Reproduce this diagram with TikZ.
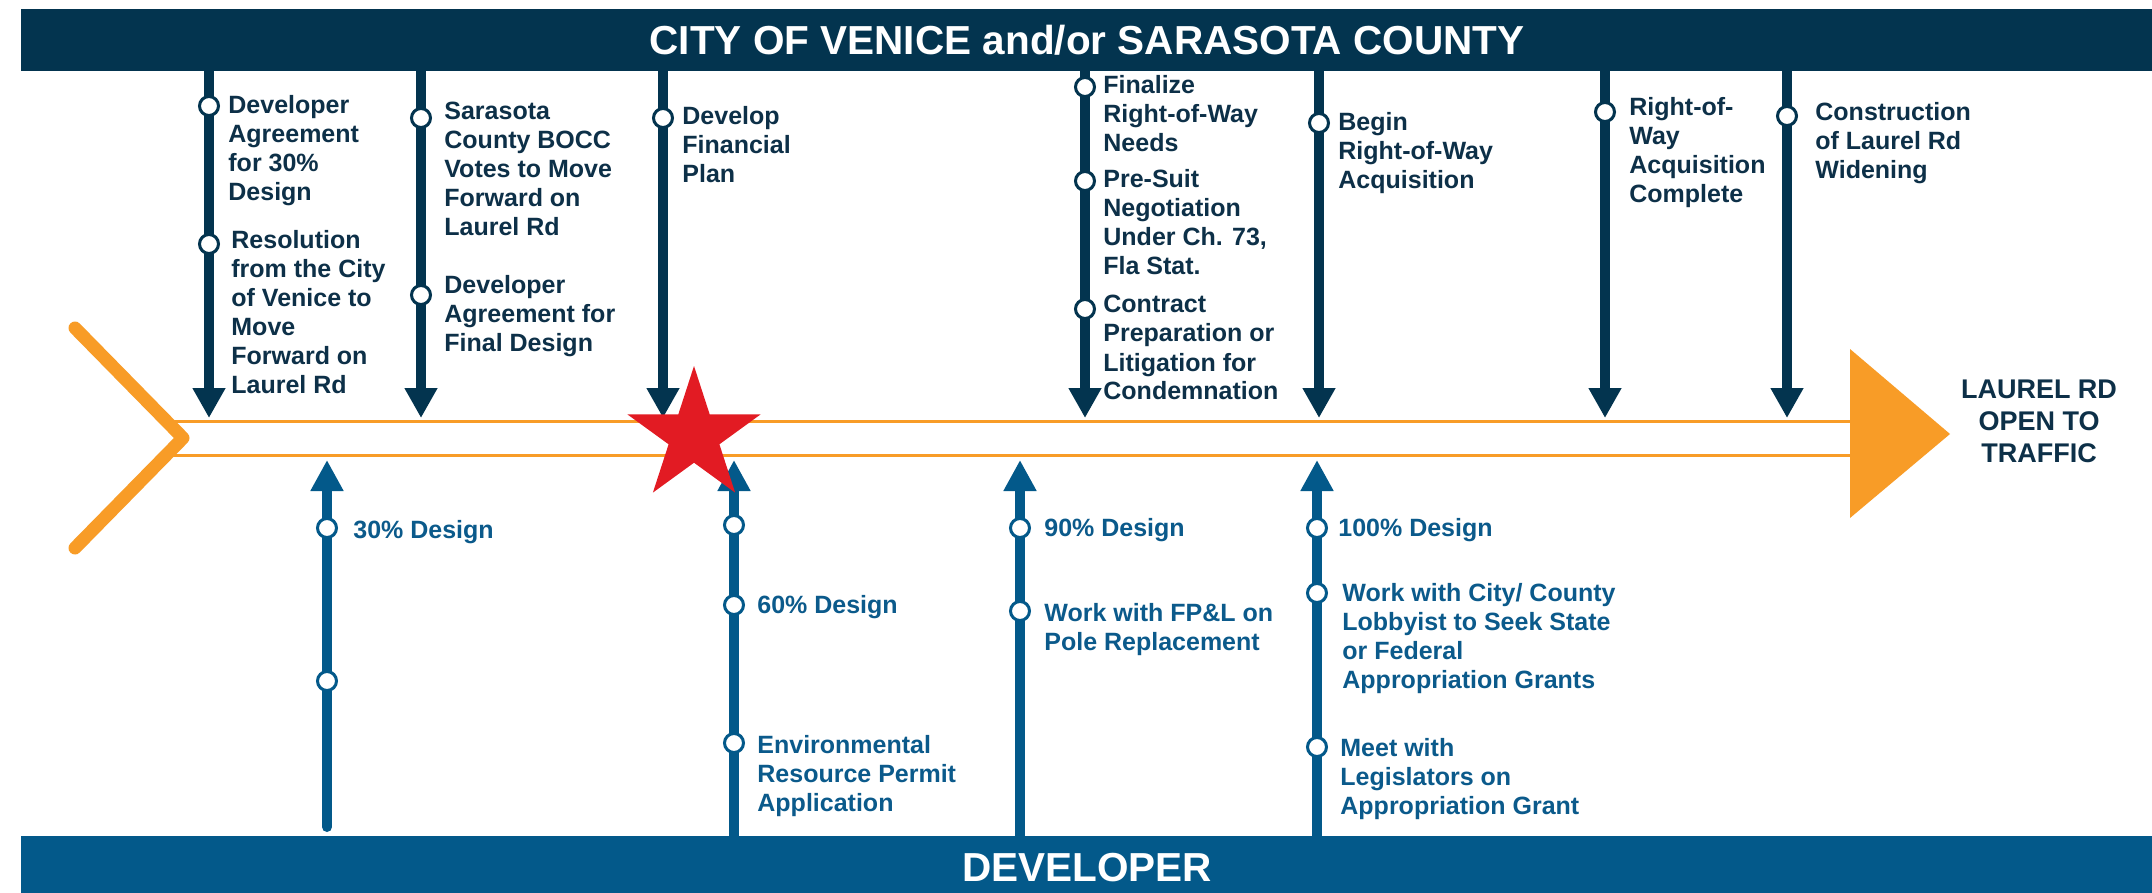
\documentclass[tikz,border=0pt]{standalone}
\usepackage{fontspec}
\setmainfont{Liberation Sans}
\usetikzlibrary{arrows.meta}
\definecolor{navy}{HTML}{03344F}
\definecolor{dblue}{HTML}{03598A}
\definecolor{navytxt}{HTML}{0D3048}
\definecolor{bluetxt}{HTML}{0B5A8B}
\definecolor{orng}{HTML}{F89C27}
\definecolor{starred}{HTML}{E21B23}
\newcommand\stk[1]{\begin{tabular}[t]{@{}l@{}}#1\end{tabular}}
\newcommand\stkc[1]{\begin{tabular}[t]{@{}c@{}}#1\end{tabular}}
\newcommand\bodyfont{\fontsize{12.5}{14.5}\selectfont\bfseries}
\begin{document}
\begin{tikzpicture}[x=0.5pt,y=-0.5pt,
  band/.style={anchor=north west, inner sep=0, minimum width=1065.5pt},
  bandtext/.style={anchor=base, inner sep=0, text=white, font=\fontsize{20.25}{24}\selectfont\bfseries},
  toparrow/.style={draw=navy, line width=5pt, -{Triangle[width=15.5pt,length=15pt]}},
  botarrow/.style={draw=dblue, line width=5pt, -{Triangle[width=15.5pt,length=15.5pt]}},
  topdot/.style={circle, draw=navy, fill=white, line width=1.5pt, minimum size=9.5pt, inner sep=0},
  botdot/.style={circle, draw=dblue, fill=white, line width=1.5pt, minimum size=9.5pt, inner sep=0},
  toptxt/.style={anchor=base west, inner sep=0, text=navytxt, font=\bodyfont},
  bottxt/.style={anchor=base west, inner sep=0, text=bluetxt, font=\bodyfont},
  road/.style={draw=orng, line width=1.5pt}
]
\useasboundingbox (0,0) rectangle (2152,893);
\fill[white] (0,0) rectangle (2152,893);

% bands
\node[band, fill=navy, minimum height=31pt] (cityband) at (21,9) {};
\node[band, fill=dblue, minimum height=28.5pt] (devband) at (21,836) {};
\node[bandtext] (citytitle) at (1087,54.5) {CITY OF VENICE and/or SARASOTA COUNTY};
\node[bandtext] (devtitle) at (1087,881.5) {DEVELOPER};

% road
\coordinate (r1s) at (170,421); \coordinate (r1e) at (1852,421);
\coordinate (r2s) at (170,455); \coordinate (r2e) at (1852,455);
\draw[road] (r1s) -- (r1e);
\draw[road] (r2s) -- (r2e);
\coordinate (cv1) at (75,328); \coordinate (cv2) at (183,438); \coordinate (cv3) at (75,548);
\draw[orng, line width=6.5pt, line cap=round, line join=round] (cv1) -- (cv2) -- (cv3);
\fill[orng] (1850,349) -- (1950,434) -- (1850,518) -- cycle;
\node[anchor=base, inner sep=0, text=navytxt, font=\fontsize{13.5}{16}\selectfont\bfseries] (open) at (2039,398) {\stkc{LAUREL RD\\OPEN TO\\TRAFFIC}};

% top arrows
\foreach \n/\x in {1/209,2/421,3/663,4/1085,5/1319,6/1605,7/1787}{
  \coordinate (t\n s) at (\x,65);
  \coordinate (t\n e) at (\x,418);
  \draw[toparrow] (t\n s) -- (t\n e);
}
\node[topdot] (d1a) at (209,106) {};
\node[topdot] (d1b) at (209,244) {};
\node[topdot] (d2a) at (421,118) {};
\node[topdot] (d2b) at (421,295) {};
\node[topdot] (d3a) at (663,118) {};
\node[topdot] (d4a) at (1085,87) {};
\node[topdot] (d4b) at (1085,181) {};
\node[topdot] (d4c) at (1085,309) {};
\node[topdot] (d5a) at (1319,123) {};
\node[topdot] (d6a) at (1605,112) {};
\node[topdot] (d7a) at (1787,116) {};

\node[toptxt] (x1a) at (228,114) {\stk{Developer\\Agreement\\for 30\%\\Design}};
\node[toptxt] (x1b) at (231,249) {\stk{Resolution\\from the City\\of Venice to\\Move\\Forward on\\Laurel Rd}};
\node[toptxt] (x2a) at (444,120) {\stk{Sarasota\\County BOCC\\Votes to Move\\Forward on\\Laurel Rd}};
\node[toptxt] (x2b) at (444,293) {\stk{Developer\\Agreement for\\Final Design}};
\node[toptxt] (x3a) at (682,125) {\stk{Develop\\Financial\\Plan}};
\node[toptxt] (x4a) at (1103,94) {\stk{Finalize\\Right-of-Way\\Needs}};
\node[toptxt] (x4b) at (1103,188) {\stk{Pre-Suit\\Negotiation\\Under Ch. 73,\\Fla Stat.}};
\node[toptxt] (x4c) at (1103,313) {\stk{Contract\\Preparation or\\Litigation for\\Condemnation}};
\node[toptxt] (x5a) at (1338,131) {\stk{Begin\\Right-of-Way\\Acquisition}};
\node[toptxt] (x6a) at (1629,116) {\stk{Right-of-\\Way\\Acquisition\\Complete}};
\node[toptxt] (x7a) at (1815,121) {\stk{Construction\\of Laurel Rd\\Widening}};

% bottom arrows
\coordinate (b1s) at (327,827); \coordinate (b1e) at (327,460);
\draw[botarrow, line cap=round] (b1s) -- (b1e);
\foreach \n/\x in {2/734,3/1020,4/1317}{
  \coordinate (b\n s) at (\x,840);
  \coordinate (b\n e) at (\x,460);
  \draw[botarrow] (b\n s) -- (b\n e);
}
\node[botdot] (e1a) at (327,528) {};
\node[botdot] (e1b) at (327,681) {};
\node[botdot] (e2a) at (734,525) {};
\node[botdot] (e2b) at (734,605) {};
\node[botdot] (e2c) at (734,743) {};
\node[botdot] (e3a) at (1020,528) {};
\node[botdot] (e3b) at (1020,611) {};
\node[botdot] (e4a) at (1317,528) {};
\node[botdot] (e4b) at (1317,593) {};
\node[botdot] (e4c) at (1317,747) {};

\node[bottxt] (y1a) at (353,538) {30\% Design};
\node[bottxt] (y2a) at (757,613) {60\% Design};
\node[bottxt] (y2b) at (757,753) {\stk{Environmental\\Resource Permit\\Application}};
\node[bottxt] (y3a) at (1044,536) {90\% Design};
\node[bottxt] (y3b) at (1044,621) {\stk{Work with FP\&L on\\Pole Replacement}};
\node[bottxt] (y4a) at (1338,536) {100\% Design};
\node[bottxt] (y4b) at (1342,601) {\stk{Work with City/ County\\Lobbyist to Seek State\\or Federal\\Appropriation Grants}};
\node[bottxt] (y4c) at (1340,756) {\stk{Meet with\\Legislators on\\Appropriation Grant}};

% star
\fill[starred] (694,366) -- (709.7,414.4) -- (760.6,414.4) -- (719.4,444.3) -- (735.1,492.6)
  -- (694,462.7) -- (652.9,492.6) -- (668.6,444.3) -- (627.4,414.4) -- (678.3,414.4) -- cycle;
\end{tikzpicture}
\end{document}
